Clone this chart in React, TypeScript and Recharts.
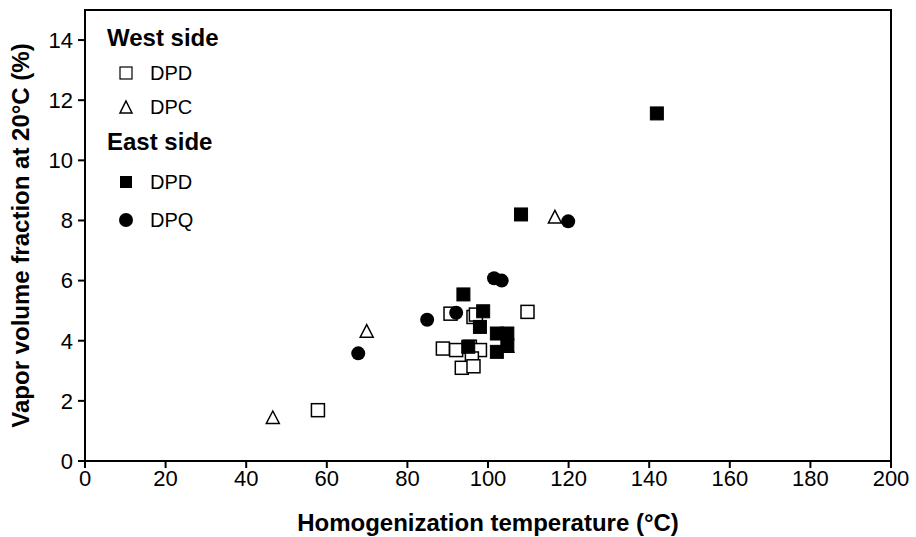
import React from 'react';
import { ScatterChart, Scatter, XAxis, YAxis, ReferenceArea } from 'recharts';

// West side, DPD (open squares)
const westDpd = [
  { x: 57.8, y: 1.69 },
  { x: 88.8, y: 3.74 },
  { x: 92.1, y: 3.69 },
  { x: 95.5, y: 3.8 },
  { x: 98.0, y: 3.69 },
  { x: 96.0, y: 3.41 },
  { x: 93.5, y: 3.1 },
  { x: 96.4, y: 3.15 },
  { x: 90.7, y: 4.9 },
  { x: 96.4, y: 4.79 },
  { x: 97.0, y: 4.87 },
  { x: 109.8, y: 4.96 },
];

// West side, DPC (open triangles)
const westDpc = [
  { x: 46.6, y: 1.43 },
  { x: 69.9, y: 4.3 },
  { x: 104.8, y: 3.8 },
  { x: 116.6, y: 8.1 },
];

// East side, DPD (filled squares)
const eastDpd = [
  { x: 95.1, y: 3.8 },
  { x: 93.9, y: 5.54 },
  { x: 98.8, y: 4.98 },
  { x: 98.0, y: 4.46 },
  { x: 102.2, y: 4.24 },
  { x: 104.8, y: 4.24 },
  { x: 102.2, y: 3.63 },
  { x: 104.8, y: 3.85 },
  { x: 108.2, y: 8.2 },
  { x: 141.9, y: 11.56 },
];

// East side, DPQ (filled circles)
const eastDpq = [
  { x: 67.8, y: 3.58 },
  { x: 84.9, y: 4.7 },
  { x: 92.1, y: 4.93 },
  { x: 101.5, y: 6.08 },
  { x: 103.4, y: 6.0 },
  { x: 119.9, y: 7.97 },
];

const xTicks = [0, 20, 40, 60, 80, 100, 120, 140, 160, 180, 200];
const yTicks = [0, 2, 4, 6, 8, 10, 12, 14];

const FONT = '"Liberation Sans", Arial, sans-serif';
const S = 13;

const OpenSquare = (p: any) => (
  <rect x={p.cx - S / 2} y={p.cy - S / 2} width={S} height={S} fill="#fff" stroke="#000" strokeWidth={1.5} />
);
const FilledSquare = (p: any) => (
  <rect x={p.cx - S / 2} y={p.cy - S / 2} width={S} height={S} fill="#000" stroke="#000" strokeWidth={1} />
);
const OpenTriangle = (p: any) => (
  <path
    d={`M${p.cx},${p.cy - 7} L${p.cx + 6.5},${p.cy + 5.5} L${p.cx - 6.5},${p.cy + 5.5} Z`}
    fill="#fff"
    stroke="#000"
    strokeWidth={1.5}
  />
);
const FilledCircle = (p: any) => <circle cx={p.cx} cy={p.cy} r={7} fill="#000" />;

const LegendItem = ({ top, shape, label }: { top: number; shape: React.ReactNode; label: string }) => (
  <div style={{ position: 'absolute', left: 117, top, display: 'flex', alignItems: 'center' }}>
    <svg width={18} height={18} style={{ display: 'block' }}>
      {shape}
    </svg>
    <span style={{ marginLeft: 15, fontSize: 20, fontFamily: FONT, lineHeight: '24px' }}>{label}</span>
  </div>
);

const titleStyle: React.CSSProperties = {
  position: 'absolute',
  left: 107,
  fontSize: 24,
  lineHeight: '28px',
  fontWeight: 'bold',
  fontFamily: FONT,
};

export default function App() {
  return (
    <div style={{ position: 'absolute', left: 0, top: 0, width: 916, height: 537, background: '#fff' }}>
      <ScatterChart width={916} height={537} margin={{ top: 10, right: 25, bottom: 0, left: 0 }}>
        <XAxis
          type="number"
          dataKey="x"
          domain={[0, 200]}
          ticks={xTicks}
          interval={0}
          height={76}
          stroke="#000"
          strokeWidth={2}
          tickSize={7}
          tick={{ fill: '#000', fontSize: 22, fontFamily: FONT }}
          label={{
            value: 'Homogenization temperature (°C)',
            position: 'insideBottom',
            offset: 6,
            style: { fill: '#000', fontSize: 24, fontWeight: 'bold', fontFamily: FONT },
          }}
        />
        <YAxis
          type="number"
          dataKey="y"
          domain={[0, 15]}
          ticks={yTicks}
          interval={0}
          width={85}
          stroke="#000"
          strokeWidth={2}
          tickSize={7}
          tickMargin={5}
          tick={{ fill: '#000', fontSize: 22, fontFamily: FONT }}
          label={{
            value: 'Vapor volume fraction at 20°C (%)',
            angle: -90,
            position: 'insideLeft',
            offset: 20,
            style: { textAnchor: 'middle', fill: '#000', fontSize: 24, fontWeight: 'bold', fontFamily: FONT },
          }}
        />
        <ReferenceArea x1={0} x2={200} y1={0} y2={15} fill="none" stroke="#000" strokeWidth={2} ifOverflow="visible" />
        <Scatter data={westDpd} shape={OpenSquare} isAnimationActive={false} />
        <Scatter data={westDpc} shape={OpenTriangle} isAnimationActive={false} />
        <Scatter data={eastDpd} shape={FilledSquare} isAnimationActive={false} />
        <Scatter data={eastDpq} shape={FilledCircle} isAnimationActive={false} />
      </ScatterChart>

      <div style={{ ...titleStyle, top: 24 }}>West side</div>
      <LegendItem top={61} label="DPD" shape={<rect x={3} y={3} width={12} height={12} fill="#fff" stroke="#000" strokeWidth={1.2} />} />
      <LegendItem top={95} label="DPC" shape={<path d="M9,3 L15,15 L3,15 Z" fill="#fff" stroke="#000" strokeWidth={1.5} />} />
      <div style={{ ...titleStyle, top: 128 }}>East side</div>
      <LegendItem top={170} label="DPD" shape={<rect x={3} y={3} width={12} height={12} fill="#000" />} />
      <LegendItem top={208} label="DPQ" shape={<circle cx={9} cy={9} r={7} fill="#000" />} />
    </div>
  );
}
